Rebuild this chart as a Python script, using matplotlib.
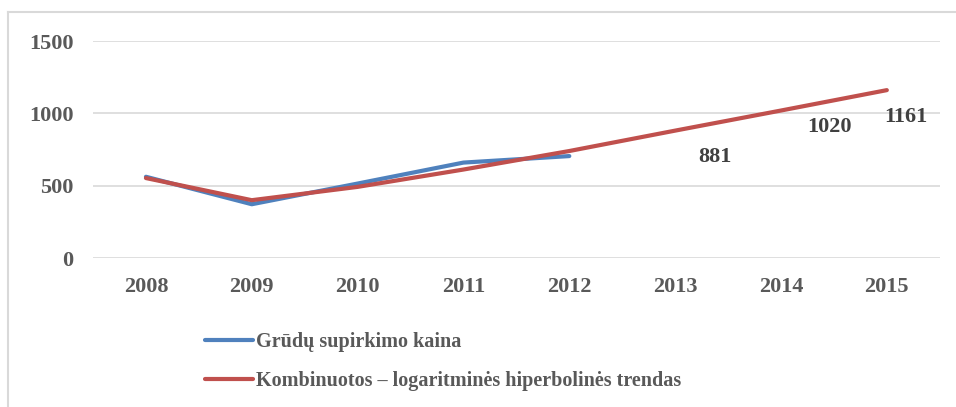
import matplotlib
matplotlib.use("Agg")
import matplotlib.pyplot as plt
from matplotlib.lines import Line2D

# --- grūdų supirkimo kaina ir trendo prognozė --- #

years = ["2008", "2009", "2010", "2011", "2012", "2013", "2014", "2015"]
price = [562, 372, 515, 660, 705]
trend = [553, 400, 492, 612, 740, 881, 1020, 1161]
label_years = [5, 6, 7]                       # taškai su reikšmių etiketėmis
label_offsets = [(29, -19), (35, -12), (14, -19)]  # poslinkis taškais

BLUE = "#4F81BD"
RED = "#C0504D"
GRAY = "#595959"

plt.rcParams["font.family"] = ["Liberation Serif", "DejaVu Serif"]
plt.rcParams["font.weight"] = "bold"

fig = plt.figure(figsize=(9.56, 4.07), dpi=100)
ax = fig.add_axes([0.0973, 0.366, 0.8857, 0.533])

x = list(range(len(years)))
ax.plot(x[:len(price)], price, color=BLUE, lw=3, solid_capstyle="round", zorder=3)
ax.plot(x, trend, color=RED, lw=3, solid_capstyle="round", zorder=4)

for i, off in zip(label_years, label_offsets):
    ax.annotate(str(trend[i]), (i, trend[i]), xytext=off, textcoords="offset points",
                ha="center", va="center", fontsize=16, fontweight="bold", color="#404040")

ax.set_xlim(-0.5, len(years) - 0.5)
ax.set_ylim(0, 1500)
ax.set_yticks([0, 500, 1000, 1500])
ax.set_xticks(x)
ax.set_xticklabels(years)
ax.tick_params(axis="both", length=0, labelsize=16, labelcolor=GRAY)
ax.tick_params(axis="y", pad=14)
ax.tick_params(axis="x", pad=14)
ax.grid(axis="y", color="#D9D9D9", lw=1.2)
ax.set_axisbelow(True)
for s in ax.spines.values():
    s.set_visible(False)

# rėmelis
fig.add_artist(Line2D([0.0084, 1.0], [0.971, 0.971], color="#D9D9D9", lw=1.5,
                      transform=fig.transFigure))
fig.add_artist(Line2D([0.0084, 0.0084], [0.0, 0.971], color="#D9D9D9", lw=1.5,
                      transform=fig.transFigure))

handles = [Line2D([], [], color=BLUE, lw=3, solid_capstyle="round"),
           Line2D([], [], color=RED, lw=3, solid_capstyle="round")]
leg = ax.legend(handles, ["Grūdų supirkimo kaina",
                          "Kombinuotos – logaritminės hiperbolinės trendas"],
                loc="upper left", bbox_to_anchor=(0.214, 0.185),
                bbox_transform=fig.transFigure, frameon=False,
                handlelength=2.4, handletextpad=0.15, labelspacing=0.95,
                borderaxespad=0, borderpad=0,
                prop={"size": 14.5, "weight": "bold"})
for t in leg.get_texts():
    t.set_color(GRAY)

fig.savefig("out.png", dpi=100)
